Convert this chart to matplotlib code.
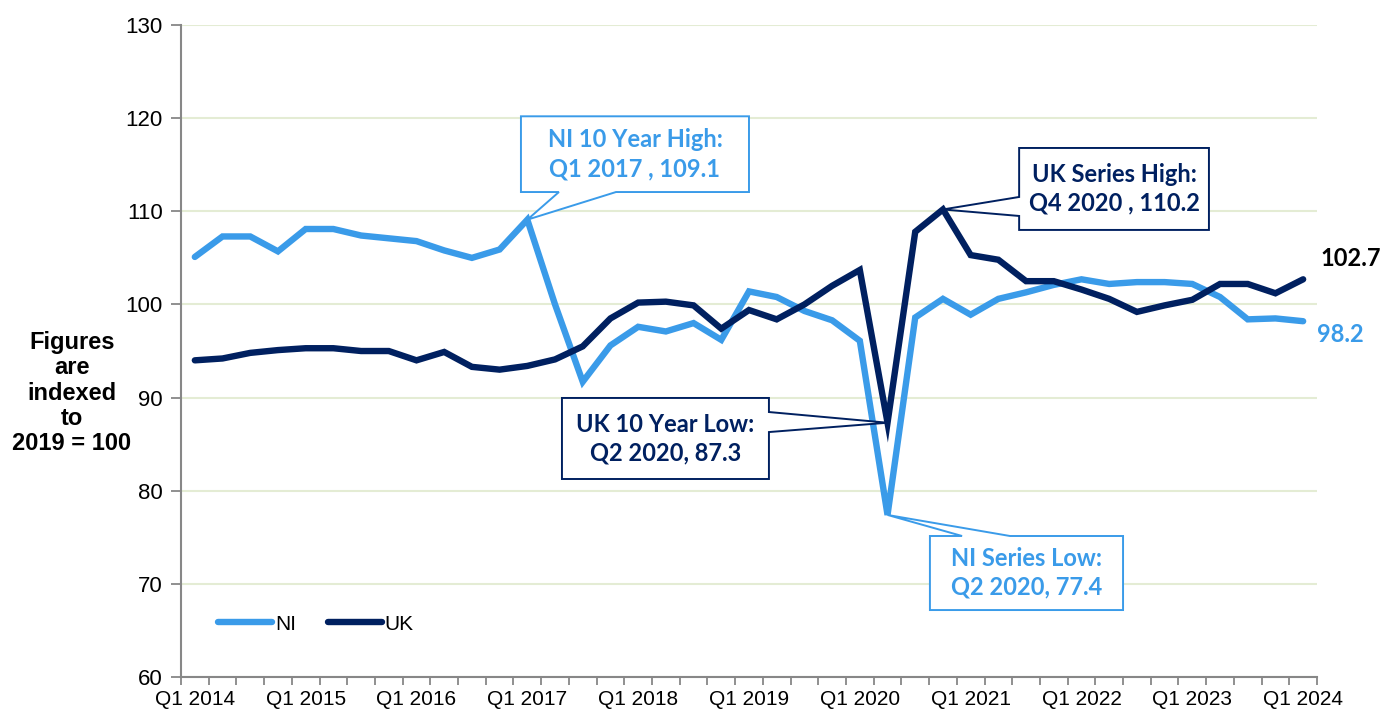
import matplotlib

matplotlib.use("Agg")

import matplotlib.pyplot as plt
from matplotlib.patches import Polygon

plt.rcParams["font.family"] = ["Liberation Sans", "DejaVu Sans"]

NI_BLUE = "#3A9BE9"
UK_NAVY = "#002060"
GRID = "#E4ECD4"
SPINE = "#878787"
CALLOUT_FONT = ["Lato", "DejaVu Sans"]

# quarters Q1 2014 .. Q1 2024
years = list(range(2014, 2025))
quarters = [f"Q{q} {y}" for y in years for q in range(1, 5)][:41]

ni = [105.1, 107.3, 107.3, 105.7, 108.1, 108.1, 107.4, 107.1, 106.8, 105.8,
      105.0, 105.9, 109.1, 100.0, 91.7, 95.6, 97.6, 97.1, 98.0, 96.2,
      101.4, 100.8, 99.3, 98.3, 96.1, 77.4, 98.6, 100.6, 98.9, 100.6,
      101.3, 102.1, 102.7, 102.2, 102.4, 102.4, 102.2, 100.8, 98.4, 98.5,
      98.2]
uk = [94.0, 94.2, 94.8, 95.1, 95.3, 95.3, 95.0, 95.0, 94.0, 94.9,
      93.3, 93.0, 93.4, 94.1, 95.5, 98.5, 100.2, 100.3, 99.9, 97.4,
      99.4, 98.4, 100.0, 102.0, 103.7, 87.3, 107.8, 110.2, 105.3, 104.8,
      102.5, 102.5, 101.6, 100.6, 99.2, 99.9, 100.5, 102.2, 102.2, 101.2,
      102.7]

y_ticks = [60, 70, 80, 90, 100, 110, 120, 130]
label_every = 4


def callout(ax, box, wedge, tip, side, text, color):
    x0, x1, y0, y1 = box
    w0, w1 = wedge
    if side == "bottom":
        pts = [(x0, y1), (x1, y1), (x1, y0), (w1, y0), tip, (w0, y0), (x0, y0)]
    elif side == "top":
        pts = [(x0, y1), (w0, y1), tip, (w1, y1), (x1, y1), (x1, y0), (x0, y0)]
    elif side == "right":
        pts = [(x0, y1), (x1, y1), (x1, w1), tip, (x1, w0), (x1, y0), (x0, y0)]
    else:
        pts = [(x0, y1), (x1, y1), (x1, y0), (x0, y0), (x0, w0), tip, (x0, w1)]
    ax.add_patch(Polygon(pts, closed=True, facecolor="white", edgecolor=color,
                         linewidth=1.4, zorder=5, joinstyle="miter"))
    ax.text((x0 + x1) / 2, (y0 + y1) / 2, text, ha="center", va="center",
            color=color, fontsize=17, fontweight="bold", family=CALLOUT_FONT,
            linespacing=1.3, zorder=6)


fig = plt.figure(figsize=(13.91, 7.11), dpi=100)
ax = fig.add_axes([0.1301, 0.0478, 0.8167, 0.917])

x = list(range(len(quarters)))
ax.plot(x, ni, color=NI_BLUE, linewidth=4.6, label="NI", solid_joinstyle="miter",
        solid_capstyle="round", zorder=3)
ax.plot(x, uk, color=UK_NAVY, linewidth=4.6, label="UK", solid_joinstyle="miter",
        solid_capstyle="round", zorder=3)

ax.set_xlim(-0.5, len(quarters) - 0.5)
ax.set_ylim(60, 130)
ax.set_yticks(y_ticks)
ax.tick_params(axis="y", labelsize=16, length=7, width=1.3, color=SPINE, pad=6)
ax.yaxis.grid(True, color=GRID, linewidth=1.5)
ax.set_axisbelow(True)

ax.set_xticks(x[::label_every])
ax.set_xticklabels(quarters[::label_every])
ax.set_xticks([i - 0.5 for i in range(len(quarters) + 1)], minor=True)
ax.tick_params(axis="x", which="major", length=0, labelsize=15, pad=9)
ax.tick_params(axis="x", which="minor", length=6, width=1.3, color=SPINE)

for side in ["top", "right"]:
    ax.spines[side].set_visible(False)
for side in ["left", "bottom"]:
    ax.spines[side].set_color(SPINE)
    ax.spines[side].set_linewidth(1.5)

ax.legend(loc="center left", bbox_to_anchor=(0.0326, 0.0813), ncol=2, frameon=False,
          fontsize=15, handlelength=2.6, handletextpad=0.15, columnspacing=1.5,
          borderpad=0, borderaxespad=0)

i_ni_high = ni.index(max(ni))
i_ni_low = ni.index(min(ni))
i_uk_low = uk.index(min(uk))
i_uk_high = uk.index(max(uk))

callout(ax, (11.77, 20.0, 112.07, 120.2), (13.14, 15.2), (i_ni_high, ni[i_ni_high]),
        "bottom", f"NI 10 Year High:\n{quarters[i_ni_high]} , {ni[i_ni_high]}", NI_BLUE)
callout(ax, (13.25, 20.72, 81.26, 89.96), (86.3, 88.45), (i_uk_low, uk[i_uk_low]),
        "right", f"UK 10 Year Low:\n{quarters[i_uk_low]}, {uk[i_uk_low]}", UK_NAVY)
callout(ax, (26.53, 33.5, 67.19, 75.14), (27.69, 29.42), (i_ni_low, ni[i_ni_low]),
        "top", f"NI Series Low:\n{quarters[i_ni_low]}, {ni[i_ni_low]}", NI_BLUE)
callout(ax, (29.75, 36.6, 108.0, 116.8), (109.5, 111.54), (i_uk_high, uk[i_uk_high]),
        "left", f"UK Series High:\n{quarters[i_uk_high]} , {uk[i_uk_high]}", UK_NAVY)

ax.text(len(uk) - 0.39, uk[-1] + 2.2, f"{uk[-1]}", ha="left", va="center",
        color="black", fontsize=17, fontweight="bold", family=CALLOUT_FONT, clip_on=False)
ax.text(len(ni) - 0.5, ni[-1] - 1.4, f"{ni[-1]}", ha="left", va="center",
        color=NI_BLUE, fontsize=17, fontweight="bold", family=CALLOUT_FONT, clip_on=False)

fig.text(72 / 1391, 1 - 393 / 711, "Figures\nare\nindexed\nto\n2019 = 100",
         ha="center", va="center", fontsize=17, fontweight="bold", linespacing=1.12)

fig.savefig("out.png", dpi=100)
